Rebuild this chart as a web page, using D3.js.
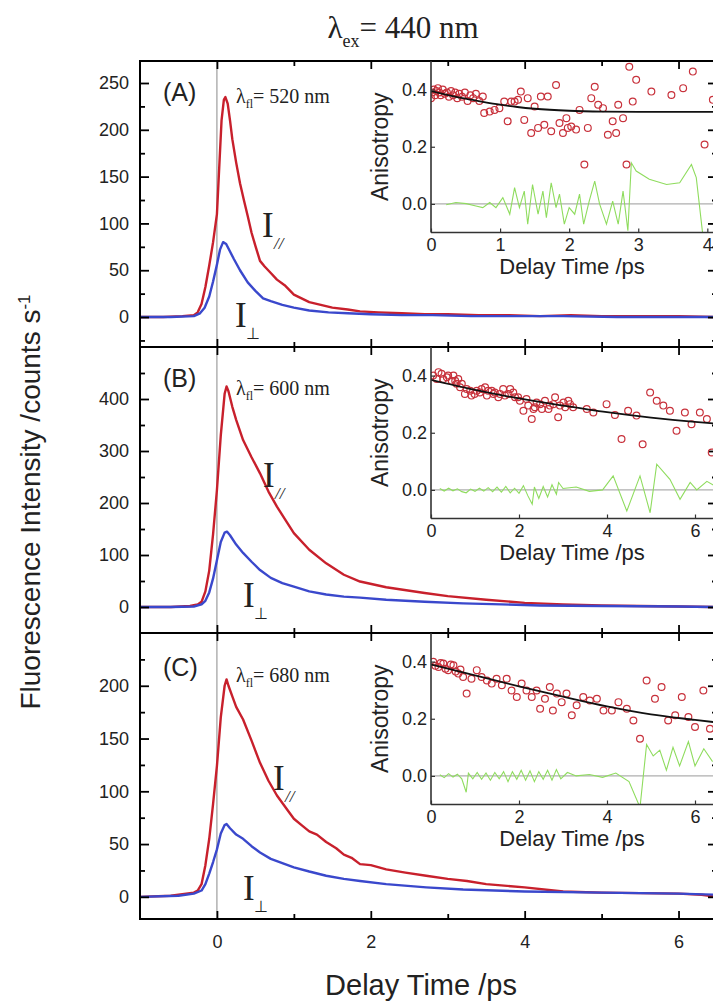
<!DOCTYPE html>
<html>
<head>
<meta charset="utf-8">
<script src="https://cdn.jsdelivr.net/npm/d3@7"></script>
<style>
  body { margin: 0; background: #fff; }
  svg { display: block; }
  .sans { font-family: 'Liberation Sans', Arial, sans-serif; }
  .serif { font-family: 'Liberation Serif', 'Times New Roman', serif; }
</style>
</head>
<body>
<svg width="713" height="1007"></svg>
<script>
// ---- data ----
const panelNames = ['(A)', '(B)', '(C)']
const emission = ['520', '600', '680']

const xMajor = [0, 2, 4, 6]
const xMinor = [1, 3, 5]
const yMajor = [[0, 50, 100, 150, 200, 250], [0, 100, 200, 300, 400], [0, 50, 100, 150, 200]]
const yMinor = [[-25, 25, 75, 125, 175, 225], [50, 150, 250, 350, 450], [25, 75, 125, 175, 225]]

// [time ps, counts/s]
const parA = [[-1,0],[-0.7,0],[-0.45,1],[-0.3,2],[-0.25,5],[-0.2,14],[-0.15,32],[-0.1,55],[-0.05,80],[0,110],[0.03,160],[0.06,210],[0.09,232],[0.11,235],[0.14,228],[0.17,210],[0.2,190],[0.25,165],[0.3,143],[0.35,125],[0.4,108],[0.45,90],[0.5,76],[0.56,60],[0.62,54],[0.7,47],[0.78,40],[0.88,34],[1.0,24],[1.1,20],[1.2,16],[1.35,13],[1.5,10],[1.7,8],[1.86,6],[2.1,5],[2.4,4],[2.7,3],[3.0,3],[3.4,2],[3.8,2],[4.2,1],[4.6,2],[5.0,1],[5.5,1],[6.0,1],[6.5,0]]
const perA = [[-1,0],[-0.6,0],[-0.3,1],[-0.22,4],[-0.16,10],[-0.1,22],[-0.05,38],[0,56],[0.04,72],[0.08,80],[0.12,78],[0.17,70],[0.22,62],[0.3,50],[0.4,37],[0.5,28],[0.6,20],[0.7,17],[0.85,13],[1.0,10],[1.2,7],[1.45,5],[1.7,4],[2.0,3],[2.4,2],[2.8,2],[3.3,1],[3.8,1],[4.5,1],[5.2,0],[6.0,0],[6.5,0]]
const parB = [[-1,0],[-0.6,0],[-0.35,2],[-0.25,5],[-0.2,10],[-0.15,30],[-0.1,70],[-0.05,140],[0,225],[0.05,330],[0.1,410],[0.125,424],[0.15,415],[0.2,385],[0.25,360],[0.34,321],[0.45,288],[0.56,257],[0.67,222],[0.78,193],[0.9,165],[1.0,142],[1.2,110],[1.42,84],[1.65,62],[1.86,49],[2.2,38],[2.7,27],[3.0,21],[3.5,14],[4.0,8],[4.5,5],[5.0,3],[5.5,2],[6.0,1],[6.5,0]]
const perB = [[-1,0],[-0.6,0],[-0.3,1],[-0.2,5],[-0.15,12],[-0.1,28],[-0.05,55],[0,90],[0.05,125],[0.1,143],[0.13,145],[0.17,138],[0.25,120],[0.34,104],[0.45,87],[0.56,71],[0.7,56],[0.85,46],[1.0,39],[1.2,30],[1.42,24],[1.65,20],[1.86,18],[2.2,14],[2.7,10],[3.2,7],[3.7,5],[4.2,3],[5.0,2],[6.0,1],[6.5,0]]
const parC = [[-1,0],[-0.6,1],[-0.4,3],[-0.3,4],[-0.25,6],[-0.2,12],[-0.15,30],[-0.1,55],[-0.05,88],[0,124],[0.05,170],[0.1,200],[0.125,206],[0.15,200],[0.2,190],[0.25,180],[0.34,168],[0.45,148],[0.56,127],[0.67,110],[0.78,96],[0.9,84],[1.0,74],[1.1,68],[1.2,62],[1.3,59],[1.42,52],[1.55,46],[1.65,40],[1.75,37],[1.86,31],[2.0,30],[2.2,26],[2.45,23],[2.72,20],[3.0,17],[3.25,15],[3.5,12],[4.0,9],[4.5,5],[5.0,4],[5.5,3.5],[6.0,3],[6.3,2],[6.5,0]]
const perC = [[-1,0],[-0.5,1],[-0.3,3],[-0.2,6],[-0.15,12],[-0.1,22],[-0.05,33],[0,45],[0.05,60],[0.1,68],[0.125,69],[0.17,65],[0.25,59],[0.34,55],[0.45,48],[0.56,42],[0.7,36],[0.85,32],[1.0,28],[1.2,24],[1.42,20],[1.65,17],[1.86,15],[2.2,12],[2.72,9],[3.2,7],[4.0,5],[5.0,4],[6.0,3],[6.5,2]]

// anisotropy insets: [time ps, r]
const aniA = [[0.00,0.37],[0.02,0.39],[0.04,0.40],[0.06,0.38],[0.08,0.395],[0.10,0.405],[0.12,0.39],[0.14,0.38],[0.17,0.40],[0.20,0.385],[0.23,0.39],[0.26,0.375],[0.29,0.395],[0.32,0.38],[0.35,0.39],[0.38,0.37],[0.41,0.385],[0.45,0.375],[0.49,0.39],[0.53,0.36],[0.57,0.38],[0.61,0.37],[0.65,0.385],[0.70,0.36],[0.75,0.376],[0.77,0.318],[0.85,0.323],[0.92,0.329],[0.99,0.335],[1.06,0.358],[1.11,0.289],[1.16,0.358],[1.21,0.358],[1.26,0.364],[1.30,0.393],[1.35,0.294],[1.40,0.370],[1.45,0.248],[1.50,0.341],[1.55,0.266],[1.59,0.376],[1.64,0.277],[1.69,0.376],[1.74,0.254],[1.81,0.416],[1.86,0.283],[1.91,0.248],[1.96,0.300],[1.98,0.266],[2.03,0.271],[2.10,0.260],[2.15,0.329],[2.22,0.138],[2.27,0.266],[2.32,0.370],[2.37,0.410],[2.42,0.347],[2.49,0.335],[2.56,0.242],[2.63,0.289],[2.68,0.248],[2.71,0.347],[2.78,0.300],[2.83,0.138],[2.87,0.480],[2.92,0.358],[2.97,0.434],[3.19,0.393],[3.48,0.381],[3.65,0.405],[3.79,0.463],[3.96,0.208],[4.08,0.364]]
const fitA = [[0,0.395],[0.25,0.381],[0.5,0.368],[0.75,0.357],[1,0.347],[1.25,0.339],[1.5,0.333],[2,0.326],[2.5,0.323],[3,0.322],[4.2,0.322]]
const resA = [[0.22,-0.003],[0.36,0.005],[0.51,0.001],[0.65,-0.007],[0.75,-0.013],[0.85,0.005],[0.94,-0.013],[1.04,0.022],[1.14,-0.036],[1.21,0.057],[1.28,-0.013],[1.35,0.045],[1.40,-0.071],[1.47,0.068],[1.55,-0.036],[1.62,0.045],[1.67,-0.048],[1.74,0.074],[1.81,-0.013],[1.86,0.034],[1.93,-0.071],[2.00,-0.013],[2.08,-0.036],[2.15,0.034],[2.21,-0.071],[2.29,0.010],[2.37,0.080],[2.44,0.0],[2.54,-0.071],[2.63,0.010],[2.71,-0.071],[2.78,0.045],[2.85,-0.094],[2.90,0.144],[2.97,0.115],[3.16,0.086],[3.41,0.068],[3.60,0.074],[3.77,0.138],[3.84,0.092],[3.94,-0.12]]

const aniB = [[0.05,0.40],[0.13,0.388],[0.17,0.412],[0.24,0.406],[0.28,0.388],[0.36,0.394],[0.39,0.40],[0.47,0.382],[0.51,0.40],[0.55,0.382],[0.58,0.371],[0.62,0.388],[0.66,0.359],[0.70,0.371],[0.77,0.336],[0.81,0.353],[0.89,0.347],[0.92,0.330],[0.99,0.336],[1.04,0.347],[1.11,0.341],[1.15,0.353],[1.23,0.359],[1.27,0.330],[1.30,0.347],[1.38,0.347],[1.42,0.336],[1.45,0.341],[1.53,0.324],[1.57,0.336],[1.64,0.353],[1.68,0.330],[1.76,0.336],[1.80,0.353],[1.87,0.341],[1.91,0.324],[1.98,0.324],[2.02,0.312],[2.10,0.277],[2.17,0.318],[2.21,0.295],[2.29,0.248],[2.33,0.283],[2.36,0.289],[2.40,0.306],[2.48,0.300],[2.52,0.283],[2.59,0.312],[2.67,0.283],[2.70,0.295],[2.78,0.300],[2.82,0.324],[2.89,0.254],[2.93,0.295],[3.01,0.306],[3.05,0.289],[3.12,0.312],[3.16,0.300],[3.23,0.289],[3.54,0.283],[3.69,0.271],[3.99,0.300],[4.18,0.262],[4.33,0.178],[4.48,0.277],[4.67,0.260],[4.81,0.160],[4.98,0.341],[5.13,0.312],[5.28,0.295],[5.43,0.277],[5.58,0.207],[5.77,0.271],[5.92,0.230],[6.11,0.271],[6.27,0.248],[6.38,0.131]]
const fitB = [[0,0.385],[1,0.35],[2,0.32],[3,0.295],[4,0.272],[5,0.253],[6,0.238],[6.5,0.232]]
const resB = [[0.2,0.005],[0.3,-0.004],[0.4,0.006],[0.5,-0.003],[0.6,0.004],[0.7,-0.006],[0.8,-0.01],[0.9,0.003],[1.0,-0.005],[1.1,0.006],[1.2,-0.004],[1.3,0.008],[1.4,-0.006],[1.5,0.01],[1.6,-0.008],[1.7,0.012],[1.8,-0.01],[1.9,0.006],[2.0,-0.012],[2.1,0.015],[2.2,-0.02],[2.3,-0.05],[2.35,0.01],[2.45,-0.03],[2.55,0.012],[2.65,-0.025],[2.75,0.018],[2.85,-0.015],[2.9,0.026],[3.0,0.005],[3.3,0.01],[3.6,-0.005],[3.9,0.0],[4.14,0.049],[4.45,-0.074],[4.75,0.049],[4.98,-0.08],[5.13,0.09],[5.43,0.037],[5.66,-0.033],[5.89,0.026],[6.04,0.0],[6.27,0.03],[6.5,0.01]]

const aniC = [[0.05,0.399],[0.10,0.385],[0.17,0.381],[0.22,0.395],[0.28,0.393],[0.33,0.375],[0.39,0.370],[0.45,0.39],[0.51,0.387],[0.56,0.365],[0.62,0.358],[0.67,0.372],[0.73,0.346],[0.81,0.288],[0.92,0.340],[1.04,0.370],[1.15,0.346],[1.27,0.334],[1.38,0.323],[1.49,0.340],[1.61,0.317],[1.72,0.340],[1.83,0.299],[1.95,0.276],[2.06,0.323],[2.17,0.299],[2.29,0.276],[2.40,0.299],[2.48,0.235],[2.59,0.270],[2.70,0.311],[2.77,0.229],[2.86,0.288],[2.97,0.258],[3.08,0.288],[3.20,0.212],[3.31,0.247],[3.46,0.276],[3.61,0.264],[3.77,0.270],[3.92,0.229],[4.11,0.229],[4.26,0.258],[4.45,0.235],[4.60,0.194],[4.75,0.130],[4.90,0.334],[5.09,0.270],[5.24,0.311],[5.39,0.194],[5.55,0.212],[5.70,0.276],[5.85,0.206],[6.00,0.171],[6.19,0.299],[6.34,0.165]]
const fitC = [[0,0.39],[1,0.352],[2,0.313],[3,0.277],[4,0.243],[5,0.215],[6,0.196],[6.5,0.187]]
const resC = [[0.2,0.004],[0.3,-0.006],[0.4,0.008],[0.5,-0.004],[0.6,0.006],[0.7,-0.01],[0.8,-0.057],[0.85,0.01],[0.95,-0.01],[1.05,0.012],[1.15,-0.012],[1.25,0.01],[1.35,-0.015],[1.45,0.012],[1.55,-0.01],[1.65,0.015],[1.75,-0.02],[1.85,0.015],[1.95,-0.012],[2.05,0.02],[2.15,-0.015],[2.25,0.018],[2.35,-0.02],[2.45,0.015],[2.55,-0.012],[2.65,0.02],[2.75,-0.015],[2.85,0.022],[2.95,-0.01],[3.1,0.012],[3.3,0.0],[3.6,0.005],[3.9,-0.005],[4.2,0.01],[4.5,-0.02],[4.75,-0.11],[4.9,0.11],[5.05,0.07],[5.2,0.09],[5.35,0.02],[5.5,0.1],[5.65,0.035],[5.85,0.12],[6.0,0.035],[6.2,0.095],[6.4,0.05]]

const insetXMajor = [[0, 1, 2, 3, 4], [0, 2, 4, 6], [0, 2, 4, 6]]
const insetYMajor = [0, 0.2, 0.4]

// ---- layout ----
const svg = d3.select('svg')
const left = 140
const right = 717
const red = '#c8202c'
const blue = '#3a48cc'

const x = d3.scaleLinear().domain([-1, 6.5]).range([left, right])

const panels = [
  { top: 61, bottom: 347, yDomain: [-32, 273.5], par: parA, per: perA, ani: aniA, fit: fitA, res: resA, insetMax: 4.14,
    lab: { nameY: 101, emY: 103, parX: 262, parY: 237, perX: 235, perY: 327 } },
  { top: 347, bottom: 633, yDomain: [-50, 500], par: parB, per: perB, ani: aniB, fit: fitB, res: resB, insetMax: 6.5,
    lab: { nameY: 387, emY: 395, parX: 263, parY: 487, perX: 243, perY: 607 } },
  { top: 633, bottom: 919, yDomain: [-21, 250], par: parC, per: perC, ani: aniC, fit: fitC, res: resC, insetMax: 6.5,
    lab: { nameY: 676, emY: 682, parX: 273, parY: 790, perX: 243, perY: 900 } }
]

const defs = svg.append('defs')

panels.forEach((p, i) => {
  const y = d3.scaleLinear().domain(p.yDomain).range([p.bottom, p.top])
  const g = svg.append('g')

  defs.append('clipPath').attr('id', 'clip' + i)
    .append('rect').attr('x', left).attr('y', p.top).attr('width', right - left).attr('height', p.bottom - p.top)

  // zero-time marker
  g.append('line')
    .attr('x1', x(0)).attr('x2', x(0)).attr('y1', p.top).attr('y2', p.bottom)
    .attr('stroke', '#8a8a8a').attr('stroke-width', 1)

  const line = d3.line().x(d => x(d[0])).y(d => y(d[1]))
  const curves = g.append('g').attr('clip-path', `url(#clip${i})`)
  curves.append('path').datum(p.par).attr('d', line)
    .attr('fill', 'none').attr('stroke', red).attr('stroke-width', 2.4).attr('stroke-linejoin', 'round')
  curves.append('path').datum(p.per).attr('d', line)
    .attr('fill', 'none').attr('stroke', blue).attr('stroke-width', 2.4).attr('stroke-linejoin', 'round')

  // axes, ticks pointing inward
  const axisStyle = sel => {
    sel.select('.domain').remove()
    sel.selectAll('.tick line').attr('stroke', '#000').attr('stroke-width', 1.8)
  }
  g.append('g').attr('transform', `translate(${left},0)`)
    .call(d3.axisLeft(y).tickValues(yMajor[i]).tickSize(-9).tickPadding(11))
    .call(axisStyle)
    .call(s => s.selectAll('text').attr('class', 'sans').style('font-size', '18px').attr('fill', '#222'))
  g.append('g').attr('transform', `translate(${left},0)`)
    .call(d3.axisLeft(y).tickValues(yMinor[i]).tickSize(-5).tickFormat(''))
    .call(axisStyle)
  g.append('g').attr('transform', `translate(${right},0)`)
    .call(d3.axisRight(y).tickValues(yMajor[i]).tickSize(-9).tickFormat(''))
    .call(axisStyle)
  g.append('g').attr('transform', `translate(${right},0)`)
    .call(d3.axisRight(y).tickValues(yMinor[i]).tickSize(-5).tickFormat(''))
    .call(axisStyle)
  g.append('g').attr('transform', `translate(0,${p.top})`)
    .call(d3.axisTop(x).tickValues(xMajor).tickSize(-8).tickFormat(''))
    .call(axisStyle)
  g.append('g').attr('transform', `translate(0,${p.top})`)
    .call(d3.axisTop(x).tickValues(xMinor).tickSize(-5).tickFormat(''))
    .call(axisStyle)
  const bottomAxis = g.append('g').attr('transform', `translate(0,${p.bottom})`)
    .call(d3.axisBottom(x).tickValues(xMajor).tickSize(-8).tickPadding(16)
      .tickFormat(i === 2 ? d3.format('d') : ''))
    .call(axisStyle)
  bottomAxis.selectAll('text').attr('class', 'sans').style('font-size', '18px').attr('fill', '#222')
  g.append('g').attr('transform', `translate(0,${p.bottom})`)
    .call(d3.axisBottom(x).tickValues(xMinor).tickSize(-5).tickFormat(''))
    .call(axisStyle)

  g.append('rect')
    .attr('x', left).attr('y', p.top).attr('width', right - left).attr('height', p.bottom - p.top)
    .attr('fill', 'none').attr('stroke', '#000').attr('stroke-width', 2)

  // panel labels
  g.append('text').attr('class', 'sans').attr('x', 163).attr('y', p.lab.nameY)
    .style('font-size', '25px').attr('fill', '#222').text(panelNames[i])
  const em = g.append('text').attr('class', 'serif').attr('x', 236).attr('y', p.lab.emY)
    .style('font-size', '20px').attr('fill', '#222')
  em.append('tspan').text('λ')
  em.append('tspan').attr('dy', 5).style('font-size', '12px').text('fl')
  em.append('tspan').attr('dy', -5).text('= ' + emission[i] + ' nm')

  g.append('text').attr('class', 'serif').attr('x', p.lab.parX).attr('y', p.lab.parY)
    .style('font-size', '35px').attr('fill', '#222').text('I')
  g.append('text').attr('class', 'serif').attr('x', p.lab.parX + 12).attr('y', p.lab.parY + 12)
    .style('font-size', '17px').style('font-style', 'italic').attr('fill', '#222').text('//')
  g.append('text').attr('class', 'serif').attr('x', p.lab.perX).attr('y', p.lab.perY)
    .style('font-size', '35px').attr('fill', '#222').text('I')
  g.append('text').attr('class', 'serif').attr('x', p.lab.perX + 11).attr('y', p.lab.perY + 12)
    .style('font-size', '16px').attr('fill', '#222').text('⊥')

  // ---- inset ----
  const iLeft = 431
  const iTop = p.top
  const iBottom = p.top + 171.5
  const ix = d3.scaleLinear().domain([0, p.insetMax]).range([iLeft, right])
  const iy = d3.scaleLinear().domain([-0.1, 0.5]).range([iBottom, iTop])
  const ig = svg.append('g')

  defs.append('clipPath').attr('id', 'iclip' + i)
    .append('rect').attr('x', iLeft).attr('y', iTop).attr('width', right - iLeft).attr('height', iBottom - iTop)

  ig.append('line').attr('x1', iLeft).attr('x2', right).attr('y1', iy(0)).attr('y2', iy(0))
    .attr('stroke', '#9a9a9a').attr('stroke-width', 1)

  const iline = d3.line().x(d => ix(d[0])).y(d => iy(d[1]))
  const inner = ig.append('g').attr('clip-path', `url(#iclip${i})`)
  inner.append('path').datum(p.res).attr('d', iline)
    .attr('fill', 'none').attr('stroke', '#8fdc5e').attr('stroke-width', 1.1)
  inner.selectAll('circle').data(p.ani).enter().append('circle')
    .attr('cx', d => ix(d[0])).attr('cy', d => iy(d[1])).attr('r', 3.4)
    .attr('fill', 'none').attr('stroke', '#c8323c').attr('stroke-width', 1.2)
  inner.append('path').datum(p.fit).attr('d', d3.line().curve(d3.curveMonotoneX).x(d => ix(d[0])).y(d => iy(d[1])))
    .attr('fill', 'none').attr('stroke', '#111').attr('stroke-width', 1.8)

  const insetAxis = sel => {
    sel.select('.domain').remove()
    sel.selectAll('.tick line').attr('stroke', '#333').attr('stroke-width', 1.2)
    sel.selectAll('text').attr('class', 'sans').style('font-size', '18px').attr('fill', '#222')
  }
  ig.append('g').attr('transform', `translate(${iLeft},0)`)
    .call(d3.axisLeft(iy).tickValues(insetYMajor).tickSize(-4).tickPadding(4).tickFormat(d3.format('.1f')))
    .call(insetAxis)
  ig.append('g').attr('transform', `translate(0,${iBottom})`)
    .call(d3.axisBottom(ix).tickValues(insetXMajor[i]).tickSize(-4).tickPadding(6).tickFormat(d3.format('d')))
    .call(insetAxis)

  ig.append('line').attr('x1', iLeft).attr('x2', iLeft).attr('y1', iTop).attr('y2', iBottom)
    .attr('stroke', '#333').attr('stroke-width', 1.6)
  ig.append('line').attr('x1', iLeft).attr('x2', right).attr('y1', iBottom).attr('y2', iBottom)
    .attr('stroke', '#333').attr('stroke-width', 1.6)

  ig.append('text').attr('class', 'sans')
    .attr('transform', `translate(388,${(iTop + iBottom) / 2}) rotate(-90)`)
    .attr('text-anchor', 'middle').style('font-size', '23px').attr('fill', '#222').text('Anisotropy')
  ig.append('text').attr('class', 'sans').attr('x', 572).attr('y', iBottom + 41)
    .attr('text-anchor', 'middle').style('font-size', '22px').attr('fill', '#222').text('Delay Time /ps')
})

// titles
const title = svg.append('text').attr('class', 'serif').attr('x', 403).attr('y', 38)
  .attr('text-anchor', 'middle').style('font-size', '31px').attr('fill', '#222')
title.append('tspan').text('λ')
title.append('tspan').attr('dy', 9).style('font-size', '18px').text('ex')
title.append('tspan').attr('dy', -9).text('= 440 nm')

svg.append('text').attr('class', 'sans').attr('x', 421).attr('y', 995)
  .attr('text-anchor', 'middle').style('font-size', '29px').attr('fill', '#222').text('Delay Time /ps')

const yLabel = svg.append('text').attr('class', 'sans')
  .attr('transform', 'translate(40,502) rotate(-90)')
  .attr('text-anchor', 'middle').style('font-size', '28px').attr('fill', '#222')
yLabel.append('tspan').text('Fluorescence Intensity /counts s')
yLabel.append('tspan').attr('dy', -10).style('font-size', '17px').text('-1')
</script>
</body>
</html>
